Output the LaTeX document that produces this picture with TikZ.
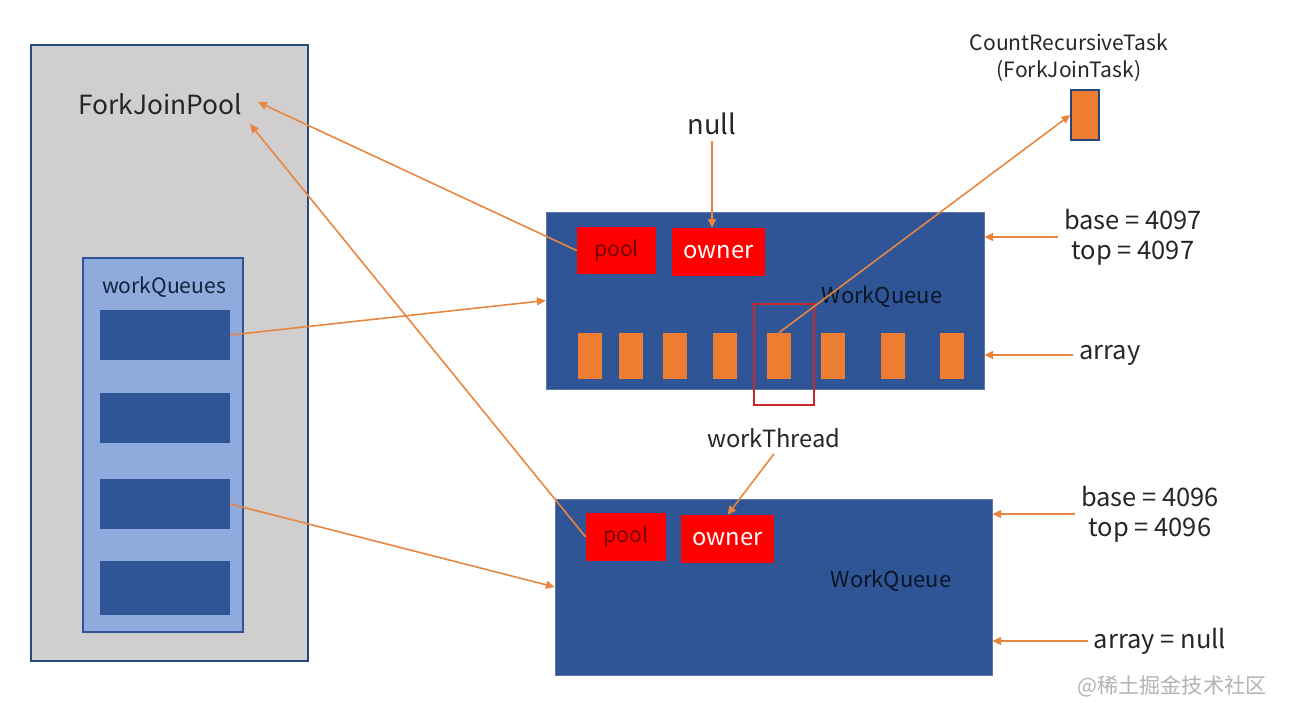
\documentclass[tikz,border=0pt]{standalone}
\usepackage{fontspec}
\setmainfont{Noto Sans CJK SC}
\usetikzlibrary{arrows.meta}

\definecolor{poolgray}{HTML}{D0CECE}
\definecolor{qblue}{HTML}{2F5597}
\definecolor{qlight}{HTML}{8FAADC}
\definecolor{cellorange}{HTML}{ED7D31}
\definecolor{arrorange}{HTML}{E8853F}
\definecolor{fieldred}{HTML}{FF0000}
\definecolor{selred}{HTML}{C8282B}

\begin{document}
\begin{tikzpicture}[
        x=0.02cm, y=-0.02cm,
        box/.style={draw, line width=0.8pt, inner sep=0pt},
        slot/.style={fill=qblue, inner sep=0pt, minimum width=2.6cm, minimum height=1cm},
        queue/.style={fill=qblue, draw=qblue!80!white, inner sep=0pt, minimum width=8.76cm,
            minimum height=3.54cm},
        field/.style={fill=fieldred, inner sep=0pt, minimum height=0.95cm},
        cell/.style={fill=cellorange, inner sep=0pt, minimum width=0.48cm, minimum height=0.92cm},
        label/.style={align=center, text=black!85, font=\fontsize{14.5}{17}\selectfont},
        arr/.style={draw=arrorange, line width=0.9pt, -{Triangle[length=5pt,width=4.5pt]}}
    ]
    \useasboundingbox (0,0) rectangle (1295,706);

    % left side: the pool and its queue array
    \node[box, fill=poolgray, draw=qblue!85!black, minimum width=5.54cm, minimum height=12.32cm]
        (fjpbox) at (169.5,353) {};
    \node[text=black!85, font=\fontsize{15}{18}\selectfont] (fjp) at (160,104) {ForkJoinPool};
    \node[box, fill=qlight, draw=qblue, minimum width=3.2cm, minimum height=7.48cm]
        (wqs) at (163,445) {};
    \node[text=qblue!40!black, font=\fontsize{12}{14}\selectfont] (wqslabel) at (164,287) {workQueues};
    \node[slot] (slot1) at (165,335) {};
    \node[slot] (slot2) at (165,418) {};
    \node[slot] (slot3) at (165,504) {};
    \node[slot, minimum height=1.08cm] (slot4) at (165,588) {};

    % first work queue, with its task array
    \node[queue] (wq1) at (765,300.5) {};
    \node[field, minimum width=1.58cm, text=fieldred!45!black, font=\fontsize{12}{14}\selectfont]
        (pool1) at (616.5,250.5) {pool};
    \node[field, minimum width=1.86cm, text=white, font=\fontsize{13.5}{15}\selectfont]
        (owner1) at (718.5,252) {owner};
    \node[text=qblue!25!black, font=\fontsize{12.5}{14}\selectfont] (wqname1) at (882,297) {WorkQueue};
    \foreach \i/\x in {1/590,2/631,3/675,4/725,5/779,6/833,7/893,8/952}
        \node[cell] (cell\i) at (\x,356) {};
    \node[draw=selred, line width=0.9pt, minimum width=1.2cm, minimum height=2.02cm]
        (sel) at (784,354.5) {};

    \node[label, font=\fontsize{15.5}{17}\selectfont] (null) at (712,124) {null};
    \node[label] (base1) at (1133,237) {base = 4097\\top = 4097};
    \node[label] (arr1) at (1110,355) {array};

    % the task that was pushed
    \node[label, font=\fontsize{12}{15.5}\selectfont] (taskname) at (1069,58)
        {CountRecursiveTask\\(ForkJoinTask)};
    \node[box, fill=cellorange, draw=qblue!80!black, minimum width=0.56cm, minimum height=1cm]
        (task) at (1085,115) {};

    % second work queue
    \node[queue, minimum width=8.74cm, minimum height=3.52cm] (wq2) at (773.5,587) {};
    \node[field, minimum width=1.6cm, text=fieldred!45!black, font=\fontsize{12}{14}\selectfont]
        (pool2) at (626,537) {pool};
    \node[field, minimum width=1.86cm, text=white, font=\fontsize{13.5}{15}\selectfont]
        (owner2) at (727.5,539) {owner};
    \node[text=qblue!25!black, font=\fontsize{12.5}{14}\selectfont] (wqname2) at (891,581) {WorkQueue};

    \node[label, font=\fontsize{13.5}{16}\selectfont] (wt) at (774,438) {workThread};
    \node[label] (base2) at (1150,514) {base = 4096\\top = 4096};
    \node[label] (arr2) at (1160,641) {array = null};

    \node[text=black!30, font=\fontsize{12}{14}\selectfont] (mark) at (1172,686) {@稀土掘金技术社区};

    % connectors
    \coordinate (fjpin1) at (258,102);
    \coordinate (fjpin2) at (250,124);
    \draw[arr] (pool1.west) -- (fjpin1);
    \draw[arr] (pool2.west) -- (fjpin2);
    \draw[arr] (slot1.east) -- (wq1.west);
    \draw[arr] (slot3.east) -- (wq2.west);
    \draw[arr] (null.south) -- (null.south |- owner1.north);
    \draw[arr] (wt.south) -- (owner2.north);
    \draw[arr] (cell5.north) -- (task.west);
    \draw[arr] (base1.west) -- (base1.west -| wq1.east);
    \draw[arr] (arr1.west) -- (arr1.west -| wq1.east);
    \draw[arr] (base2.west) -- (base2.west -| wq2.east);
    \draw[arr] (arr2.west) -- (arr2.west -| wq2.east);
\end{tikzpicture}
\end{document}
